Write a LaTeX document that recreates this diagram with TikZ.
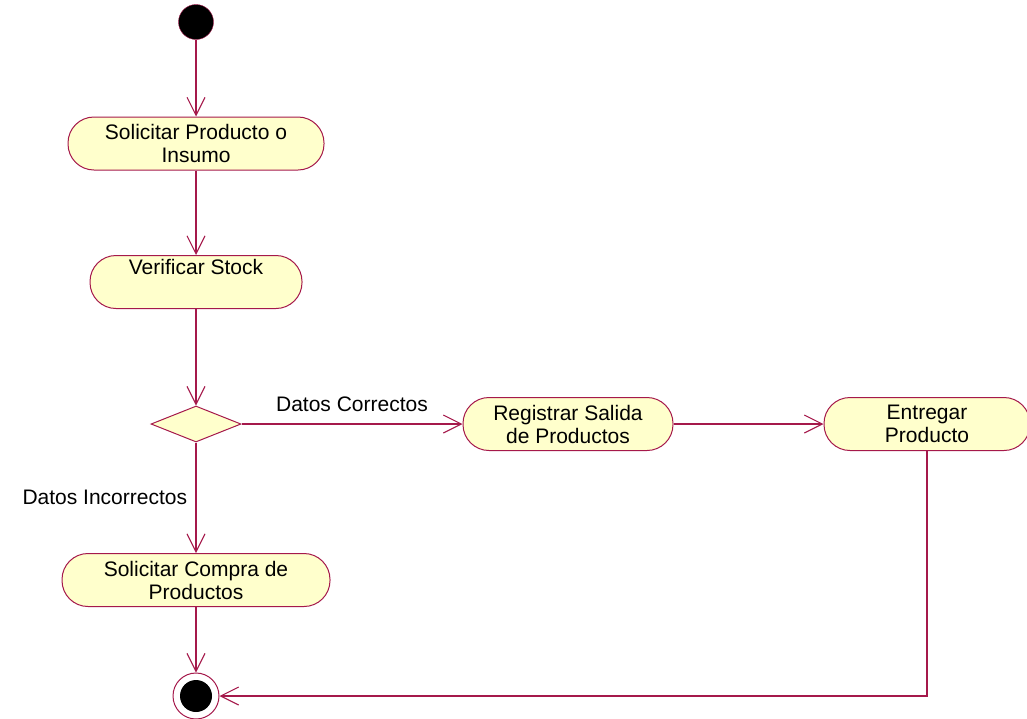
\documentclass[tikz,border=0pt]{standalone}
\usepackage{fontspec}
\setmainfont{Liberation Sans}
\usetikzlibrary{arrows.meta,shapes.geometric}
\definecolor{flowline}{RGB}{165,25,75}
\definecolor{actfill}{RGB}{255,255,204}

\begin{document}
\begin{tikzpicture}[x=1pt, y=-1pt,
  activity/.style = {rectangle, rounded corners=26pt, draw=flowline, line width=1pt, fill=actfill, align=center, minimum height=53pt, inner sep=2pt},
  decision/.style = {diamond, draw=flowline, line width=1pt, fill=actfill, minimum width=90pt, minimum height=36pt, inner sep=0pt},
  flow/.style = {draw=flowline, line width=1.1pt, -{Straight Barb[length=18pt, width=18pt]}},
  font=\fontsize{21}{23}\selectfont]
  \useasboundingbox (0, 0) rectangle (1027, 718);

  % States.
  \node at (196, 22) [circle, fill=black, draw=flowline, minimum size=35pt, inner sep=0pt, name=Start] {};
  \node at (196, 696) [circle, draw=flowline, line width=1pt, fill=white, minimum size=46pt, inner sep=0pt, name=End] {};
  \node at (196, 696) [circle, fill=black, minimum size=32pt, inner sep=0pt, name=EndDot] {};

  % Activities.
  \node at (196, 143.5) [activity, minimum width=256pt, name=SolicitarProducto] {Solicitar Producto o\\Insumo};
  \node at (196, 282) [activity, minimum width=212pt, name=VerificarStock] {Verificar Stock\\\strut};
  \node at (196, 424) [decision, name=Decision] {};
  \node at (568, 424) [activity, minimum width=210pt, name=RegistrarSalida] {Registrar Salida\\de Productos};
  \node at (927, 424) [activity, minimum width=206pt, name=EntregarProducto] {Entregar\\Producto};
  \node at (196, 580) [activity, minimum width=268pt, name=SolicitarCompra] {Solicitar Compra de\\Productos};

  % Flows.
  \draw [flow] (Start)
             to (SolicitarProducto);
  \draw [flow] (SolicitarProducto)
             to (VerificarStock);
  \draw [flow] (VerificarStock)
             to (Decision);
  \draw [flow] (Decision)
             to node [above, yshift=8pt] {Datos Correctos}
             (RegistrarSalida);
  \draw [flow] (RegistrarSalida)
             to (EntregarProducto);
  \draw [flow] (Decision)
             to node [left, xshift=-5pt] {Datos Incorrectos}
             (SolicitarCompra);
  \draw [flow] (SolicitarCompra)
             to (End);
  \draw [flow] (EntregarProducto)
             |- (End);
\end{tikzpicture}
\end{document}
